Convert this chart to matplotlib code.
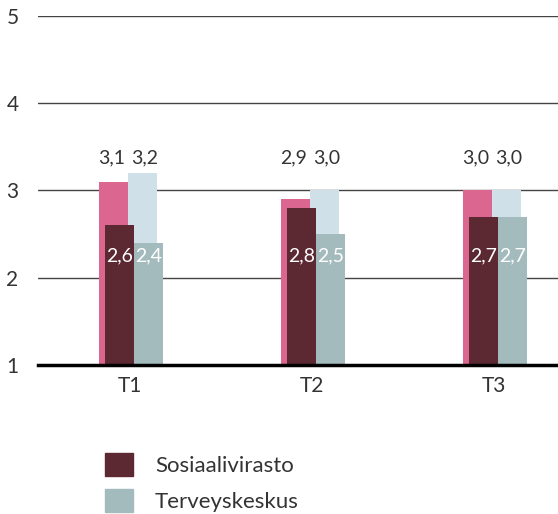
import matplotlib
matplotlib.use("Agg")
import matplotlib.pyplot as plt
from matplotlib.patches import Patch
import numpy as np

plt.rcParams['font.family'] = ['Lato', 'DejaVu Sans']

# data
categories = ['T1', 'T2', 'T3']
back_sosiaali = [3.1, 2.9, 3.0]
back_terveys = [3.2, 3.0, 3.0]
sosiaali = [2.6, 2.8, 2.7]
terveys = [2.4, 2.5, 2.7]
legend_labels = ['Sosiaalivirasto', 'Terveyskeskus']

def fmt(v):
    return ('%.1f' % v).replace('.', ',')

c_pink = '#DB6791'
c_lblue = '#CFE0E8'
c_maroon = '#5C2832'
c_teal = '#A3BBBC'
c_text = '#333333'

fig = plt.figure(figsize=(5.58, 5.14), dpi=100)
ax = fig.add_axes([0.068, 0.2899, 0.932, 0.679])

x = np.arange(len(categories))
w = 0.159   # bar width in data units
shift = 0.033
off = -0.01

# background bars
ax.bar(x - w / 2 + off, [v - 1 for v in back_sosiaali], w, bottom=1, color=c_pink, zorder=2)
ax.bar(x + w / 2 + off, [v - 1 for v in back_terveys], w, bottom=1, color=c_lblue, zorder=2)
# front bars
ax.bar(x - w / 2 + shift + off, [v - 1 for v in sosiaali], w, bottom=1, color=c_maroon, zorder=3)
ax.bar(x + w / 2 + shift + off, [v - 1 for v in terveys], w, bottom=1, color=c_teal, zorder=3)

for i in range(len(categories)):
    ax.text(x[i] - w / 2 - 0.02, 3.37, fmt(back_sosiaali[i]), ha='center', va='center',
            fontsize=14, color=c_text)
    ax.text(x[i] + w / 2 + 0.0, 3.37, fmt(back_terveys[i]), ha='center', va='center',
            fontsize=14, color=c_text)
    ax.text(x[i] - w / 2 + shift + off, 2.25, fmt(sosiaali[i]), ha='center', va='center',
            fontsize=14, color='white', zorder=4)
    ax.text(x[i] + w / 2 + shift + off, 2.25, fmt(terveys[i]), ha='center', va='center',
            fontsize=14, color='white', zorder=4)

ax.set_xlim(-0.505, 2.35)
ax.set_ylim(1, 5)
ax.set_yticks([1, 2, 3, 4, 5])
ax.set_yticklabels(['1', '2', '3', '4', '5'])
ax.set_xticks(x)
ax.set_xticklabels(categories)
for y in [2, 3, 4, 5]:
    ax.axhline(y, color='#444444', lw=1, zorder=1)
ax.axhline(1, color='black', lw=2.5, zorder=5, clip_on=False)
for s in ax.spines.values():
    s.set_visible(False)
ax.tick_params(axis='both', length=0, labelsize=15, colors=c_text)
ax.tick_params(axis='y', pad=14)
ax.tick_params(axis='x', pad=8)

handles = [Patch(color=c_maroon), Patch(color=c_teal)]
fig.legend(handles, legend_labels, loc='upper left', bbox_to_anchor=(0.152, 0.158),
           frameon=False, fontsize=16, handlelength=1.25, handleheight=1.25,
           labelspacing=0.55, handletextpad=1.0, labelcolor=c_text)

fig.savefig('out.png', dpi=100)
